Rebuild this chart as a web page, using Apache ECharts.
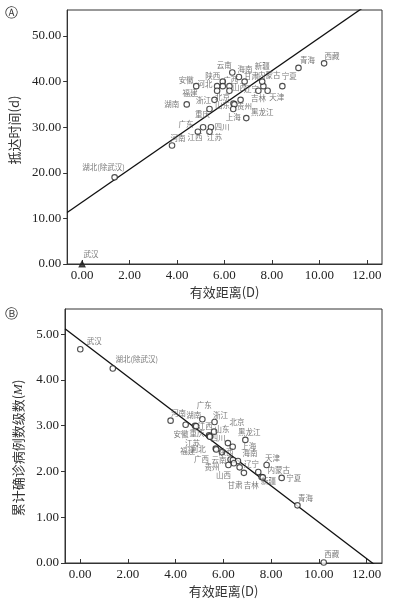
<!DOCTYPE html>
<html>
<head>
<meta charset="utf-8">
<script src="https://cdn.jsdelivr.net/npm/echarts@6/dist/echarts.min.js"></script>
<style>
html,body{margin:0;padding:0;background:#fff;}
#main{width:393px;height:604px;}
</style>
</head>
<body>
<div id="main"></div>
<script>
// 图A：有效距离 vs 抵达时间
var provA = ['西藏','青海','宁夏','天津','吉林','内蒙古','新疆','甘肃','海南','云南','广西','陕西','河北','安徽','福建','山西',
    '辽宁','北京','浙江','湖南','山东','贵州','重庆','黑龙江','上海','广东','四川','江西','江苏','河南','湖北(除武汉)','武汉'];
var distA = [10.2,9.12,8.44,7.82,7.43,7.64,7.59,6.85,6.61,6.33,5.93,5.93,5.69,4.81,5.69,6.21,
    6.21,6.68,5.58,4.41,6.38,6.42,5.37,6.92,6.37,5.10,5.43,4.88,5.37,3.79,1.37,0];
var daysA = [44,43,39,38,38,39,40,40,41,42,40,39,39,39,38,39,
    38,36,36,35,35.2,35,34,32,34,30,30,29,29,26,19,0];
// 回归线两端
var fitDistA = [-0.63, 12.64];
var fitDaysA = [11.3, 59.1];

// 图B：有效距离 vs 累计确诊病例数级数
var provB = ['武汉','湖北(除武汉)','河南','湖南','安徽','江西','广东','浙江','重庆','江苏','四川','山东','北京','上海','黑龙江','福建',
    '河北','陕西','广西','云南','海南','贵州','山西','辽宁','甘肃','吉林','新疆','内蒙古','天津','宁夏','青海','西藏'];
var distB = [0.01,1.37,3.79,4.42,4.81,4.86,5.12,5.63,5.40,5.42,5.44,5.61,6.19,6.39,6.92,5.68,
    5.70,5.94,6.30,6.40,6.61,6.44,6.21,6.68,6.86,7.46,7.60,7.65,7.81,8.44,9.10,10.2];
var levelB = [4.67,4.25,3.11,3.02,3.00,2.99,3.14,3.08,2.79,2.77,2.76,2.87,2.62,2.54,2.69,2.50,
    2.48,2.42,2.26,2.25,2.23,2.18,2.14,2.09,1.97,1.99,1.88,1.87,2.14,1.86,1.26,0.01];
var fitDistB = [-0.63, 12.64];
var fitLevelB = [5.12, -0.16];

var xTicks = [0,2,4,6,8,10,12];
var yTicksA = [0,10,20,30,40,50];
var yTicksB = [0,1,2,3,4,5];

// 标签偏移(样式)
var offA = {'西藏':[8,-7],'青海':[9,-8],'宁夏':[7,-10],'天津':[9,6],'吉林':[0,7],'内蒙古':[6,-11],'新疆':[0,-15],'甘肃':[7,-5],
    '海南':[6,-8],'云南':[-8,-7],'广西':[8,-1],'陕西':[-10,-10],'河北':[-12,-2],'安徽':[-10,-6],'福建':[-27,2],'山西':[10,1],
    '辽宁':[22,-2],'北京':[-18,-3],'浙江':[-11,0],'湖南':[-15,0],'山东':[-11,2],'贵州':[10,2],'重庆':[-7,5],'黑龙江':[16,-6],
    '上海':[0,8],'广东':[-17,-3],'四川':[11,0],'江西':[-3,5],'江苏':[5,5],'河南':[6,-7],'湖北(除武汉)':[-11,-10],'武汉':[9,-10]};
var offB = {'武汉':[14,-8],'湖北(除武汉)':[24,-9],'河南':[8,-8],'湖南':[8,-10],'安徽':[-14,8],'江西':[9,0],'广东':[2,-14],
    '浙江':[6,-7],'重庆':[-12,-2],'江苏':[-17,7],'四川':[8,1],'山东':[8,-2],'北京':[9,-21],'上海':[16,-1],'黑龙江':[4,-8],
    '福建':[-28,3],'河北':[-18,0],'陕西':[4,0],'广西':[-29,0],'云南':[-14,0],'海南':[12,-8],'贵州':[-22,4],'山西':[-5,10],
    '辽宁':[12,-3],'甘肃':[-9,12],'吉林':[-7,13],'新疆':[7,4],'内蒙古':[16,-7],'天津':[6,-7],'宁夏':[12,0],'青海':[8,-7],'西藏':[8,-8]};

function pts(names, xs, ys, off, tri) {
    var out = [];
    for (var i = 0; i < names.length; i++) {
        var item = {name: names[i], value: [xs[i], ys[i]], label: {offset: off[names[i]] || [10, 0]}};
        if (tri && names[i] === tri) {
            item.symbol = 'triangle';
            item.symbolSize = 6;
            item.itemStyle = {color: '#222'};
        }
        out.push(item);
    }
    return out;
}
function pairs(xs, ys) {
    var out = [];
    for (var i = 0; i < xs.length; i++) out.push([xs[i], ys[i]]);
    return out;
}

var serif = 'Liberation Serif';
var cjk = 'Noto Sans CJK SC';

function xAxisOf(gi) {
    return {
        gridIndex: gi, type: 'value', min: -0.63, max: 12.64,
        name: '有效距离(D)', nameLocation: 'middle', nameGap: 22,
        nameTextStyle: {fontFamily: cjk, fontSize: 13, color: '#333'},
        axisLine: {onZero: false, lineStyle: {color: '#333'}},
        axisTick: {inside: true, length: 4, customValues: xTicks, lineStyle: {color: '#333'}},
        axisLabel: {customValues: xTicks, margin: 5, fontFamily: serif, fontSize: 13, color: '#222',
            formatter: function (v) { return v.toFixed(2); }},
        splitLine: {show: false}
    };
}
function yAxisOf(gi, max, ticks, name, pad) {
    return {
        gridIndex: gi, type: 'value', min: 0, max: max,
        name: name, nameLocation: 'middle', nameGap: 40,
        nameTextStyle: {fontFamily: cjk, fontSize: 13, color: '#333', padding: pad,
            rich: {m: {fontFamily: serif, fontStyle: 'italic', fontSize: 13, color: '#333'}}},
        axisLine: {onZero: false, lineStyle: {color: '#333'}},
        axisTick: {inside: false, length: 4, customValues: ticks, lineStyle: {color: '#333'}},
        axisLabel: {customValues: ticks, margin: 6, fontFamily: serif, fontSize: 13, color: '#222',
            formatter: function (v) { return v.toFixed(2); }},
        splitLine: {show: false}
    };
}

var scatterStyle = {
    type: 'scatter', symbol: 'circle', symbolSize: 5.5, z: 3,
    itemStyle: {color: '#fff', borderColor: '#222', borderWidth: 1.1},
    label: {show: true, position: 'inside', formatter: '{b}', fontFamily: cjk, fontSize: 7.5, color: '#555'},
    emphasis: {disabled: true}
};

var chart = echarts.init(document.getElementById('main'), null, {renderer: 'canvas'});
var option = {
    animation: false,
    backgroundColor: '#fff',
    grid: [
        {left: 65, top: 10, width: 317, height: 254, show: true, borderColor: '#333', borderWidth: 1},
        {left: 65, top: 309, width: 317, height: 254, show: true, borderColor: '#333', borderWidth: 1}
    ],
    xAxis: [xAxisOf(0), xAxisOf(1)],
    yAxis: [
        yAxisOf(0, 55.7, yTicksA, '抵达时间(d)', [0, 0, 0, 14]),
        yAxisOf(1, 5.55, yTicksB, '累计确诊病例数级数({m|M})', [0, 24, 0, 0])
    ],
    graphic: [
        {type: 'text', left: 5, top: 7, style: {text: 'Ⓐ', font: '13px "DejaVu Sans"', fill: '#333'}},
        {type: 'text', left: 5, top: 308, style: {text: 'Ⓑ', font: '13px "DejaVu Sans"', fill: '#333'}}
    ],
    series: [
        {type: 'line', xAxisIndex: 0, yAxisIndex: 0, data: pairs(fitDistA, fitDaysA), showSymbol: false, clip: true, z: 2,
            lineStyle: {color: '#111', width: 1.3}, silent: true},
        Object.assign({}, scatterStyle, {xAxisIndex: 0, yAxisIndex: 0, data: pts(provA, distA, daysA, offA, '武汉')}),
        {type: 'line', xAxisIndex: 1, yAxisIndex: 1, data: pairs(fitDistB, fitLevelB), showSymbol: false, clip: true, z: 2,
            lineStyle: {color: '#111', width: 1.3}, silent: true},
        Object.assign({}, scatterStyle, {xAxisIndex: 1, yAxisIndex: 1, data: pts(provB, distB, levelB, offB, null)})
    ]
};
chart.setOption(option);
</script>
</body>
</html>
